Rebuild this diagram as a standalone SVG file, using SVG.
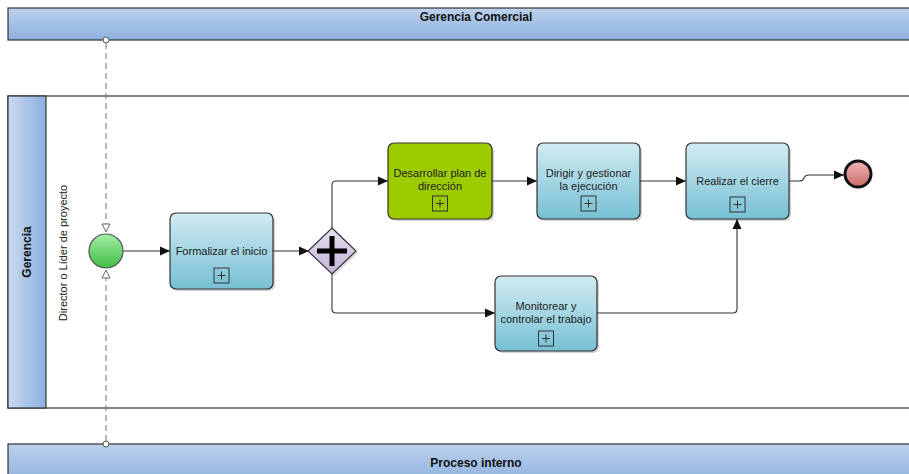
<svg xmlns="http://www.w3.org/2000/svg" width="909" height="474" viewBox="0 0 909 474">
<style>
.hdr{font-family:"Liberation Sans",Arial,sans-serif;font-size:12px;font-weight:bold;fill:#111;text-anchor:middle}
.lbl{font-family:"Liberation Sans",Arial,sans-serif;font-size:11px;fill:#222;text-anchor:middle}
.pool{stroke:#333;stroke-width:1.2}
.task{stroke:#333;stroke-width:1.2}
.shadow{fill:#000;opacity:0.18}
.plus{fill:none;stroke:#333;stroke-width:1}
.flow{fill:none;stroke:#333;stroke-width:1.1}
.msg{fill:none;stroke:#777;stroke-width:1;stroke-dasharray:6 4}
</style>
<defs>
<linearGradient id="gHdr" x1="0" y1="0" x2="0" y2="1"><stop offset="0" stop-color="#bcd1ec"/><stop offset="1" stop-color="#8db0e0"/></linearGradient>
<linearGradient id="gSide" x1="0" y1="0" x2="1" y2="0"><stop offset="0" stop-color="#c9dbf1"/><stop offset="1" stop-color="#8cafdf"/></linearGradient>
<linearGradient id="gTask" x1="0" y1="0" x2="0" y2="1"><stop offset="0" stop-color="#d2ebf2"/><stop offset="1" stop-color="#76c0d4"/></linearGradient>
<linearGradient id="gGreenTask" x1="0" y1="0" x2="0" y2="1"><stop offset="0" stop-color="#9ccc00"/><stop offset="1" stop-color="#9ccc00"/></linearGradient>
<linearGradient id="gGate" x1="0" y1="0" x2="0" y2="1"><stop offset="0" stop-color="#e6e0f0"/><stop offset="1" stop-color="#c2b4d8"/></linearGradient>
<linearGradient id="gStart" x1="0" y1="0" x2="0" y2="1"><stop offset="0" stop-color="#a6eca6"/><stop offset="1" stop-color="#3fbf45"/></linearGradient>
<linearGradient id="gEnd" x1="0" y1="0" x2="0" y2="1"><stop offset="0" stop-color="#f0b4b4"/><stop offset="1" stop-color="#cc6a6a"/></linearGradient>
<marker id="arr" markerUnits="userSpaceOnUse" markerWidth="10" markerHeight="10" refX="10" refY="5" orient="auto"><path d="M0,0.5 L10,5 L0,9.5 z" fill="#111"/></marker>
<marker id="open" markerUnits="userSpaceOnUse" markerWidth="10" markerHeight="10" refX="9" refY="5" orient="auto"><path d="M1,1 L9,5 L1,9 z" fill="#fff" stroke="#666" stroke-width="1"/></marker>
</defs>

<g id="pool-gerencia-comercial">
<rect class="pool" x="8" y="8" width="910" height="32" fill="url(#gHdr)"/>
<text class="hdr" x="476" y="21">Gerencia Comercial</text>
</g>

<g id="pool-gerencia">
<rect class="pool" x="8" y="96" width="910" height="312" fill="#fff"/>
<rect class="pool" x="8" y="96" width="38" height="312" fill="url(#gSide)"/>
<text class="hdr" transform="translate(31,252) rotate(-90)">Gerencia</text>
<text class="lbl" transform="translate(67,253) rotate(-90)">Director o Líder de proyecto</text>
</g>

<g id="pool-proceso-interno">
<rect class="pool" x="8" y="444" width="910" height="40" fill="url(#gHdr)"/>
<text class="hdr" x="476" y="467">Proceso interno</text>
</g>

<g id="connectors">
<path class="msg" d="M106,43 V232" marker-end="url(#open)"/>
<path class="msg" d="M106,441 V270" marker-end="url(#open)"/>
<circle cx="106" cy="40" r="3" fill="#fff" stroke="#555"/>
<circle cx="106" cy="444" r="3" fill="#fff" stroke="#555"/>
<path class="flow" d="M123,251 H170" marker-end="url(#arr)"/>
<path class="flow" d="M273,251 H309" marker-end="url(#arr)"/>
<path class="flow" d="M332,228 V185 Q332,181 336,181 H388" marker-end="url(#arr)"/>
<path class="flow" d="M332,274 V309 Q332,313 336,313 H495" marker-end="url(#arr)"/>
<path class="flow" d="M492,181 H537" marker-end="url(#arr)"/>
<path class="flow" d="M640,181 H686" marker-end="url(#arr)"/>
<path class="flow" d="M789,181 H799 Q803,181 804,178 Q805,175 809,175 H844" marker-end="url(#arr)"/>
<path class="flow" d="M597,313 H733 Q737,313 737,309 V219" marker-end="url(#arr)"/>
</g>

<g id="start-event">
<circle cx="106" cy="251" r="17" fill="url(#gStart)" stroke="#555" stroke-width="1.2"/>
</g>

<g id="task-formalizar">
<rect class="shadow" x="172" y="215" width="103" height="76" rx="6"/>
<rect class="task" x="170" y="213" width="103" height="76" rx="6" fill="url(#gTask)"/>
<text class="lbl" x="221.5" y="255">Formalizar el inicio</text>
<rect class="plus" x="214" y="268" width="15" height="15"/>
<path d="M217.5,275.5 h8 M221.5,271.5 v8" stroke="#333" stroke-width="1"/>
</g>

<g id="gateway">
<path d="M334,230 L358,253 L334,276 L310,253 z" fill="#000" opacity="0.15"/>
<path d="M332,228 L356,251 L332,274 L308,251 z" fill="url(#gGate)" stroke="#333" stroke-width="1.2"/>
<path d="M317,251 H347 M332,236 V266" stroke="#000" stroke-width="5"/>
</g>

<g id="task-desarrollar">
<rect class="shadow" x="390" y="145" width="104" height="76" rx="6"/>
<rect class="task" x="388" y="143" width="104" height="76" rx="6" fill="#9ccc00"/>
<text class="lbl" x="440" y="177">Desarrollar plan de</text>
<text class="lbl" x="440" y="190">dirección</text>
<rect class="plus" x="432.5" y="196" width="15" height="15"/>
<path d="M436,203.5 h8 M440,199.5 v8" stroke="#333" stroke-width="1"/>
</g>

<g id="task-dirigir">
<rect class="shadow" x="539" y="145" width="103" height="76" rx="6"/>
<rect class="task" x="537" y="143" width="103" height="76" rx="6" fill="url(#gTask)"/>
<text class="lbl" x="588.5" y="177">Dirigir y gestionar</text>
<text class="lbl" x="588.5" y="190">la ejecución</text>
<rect class="plus" x="581" y="196" width="15" height="15"/>
<path d="M584.5,203.5 h8 M588.5,199.5 v8" stroke="#333" stroke-width="1"/>
</g>

<g id="task-realizar">
<rect class="shadow" x="688" y="145" width="103" height="76" rx="6"/>
<rect class="task" x="686" y="143" width="103" height="76" rx="6" fill="url(#gTask)"/>
<text class="lbl" x="737.5" y="185">Realizar el cierre</text>
<rect class="plus" x="730" y="197" width="15" height="15"/>
<path d="M733.5,204.5 h8 M737.5,200.5 v8" stroke="#333" stroke-width="1"/>
</g>

<g id="task-monitorear">
<rect class="shadow" x="497" y="278" width="102" height="75" rx="6"/>
<rect class="task" x="495" y="276" width="102" height="75" rx="6" fill="url(#gTask)"/>
<text class="lbl" x="546" y="310">Monitorear y</text>
<text class="lbl" x="546" y="323">controlar el trabajo</text>
<rect class="plus" x="538.5" y="331" width="15" height="15"/>
<path d="M542,338.5 h8 M546,334.5 v8" stroke="#333" stroke-width="1"/>
</g>

<g id="end-event">
<circle cx="858" cy="174" r="13" fill="url(#gEnd)" stroke="#111" stroke-width="3"/>
</g>
</svg>
